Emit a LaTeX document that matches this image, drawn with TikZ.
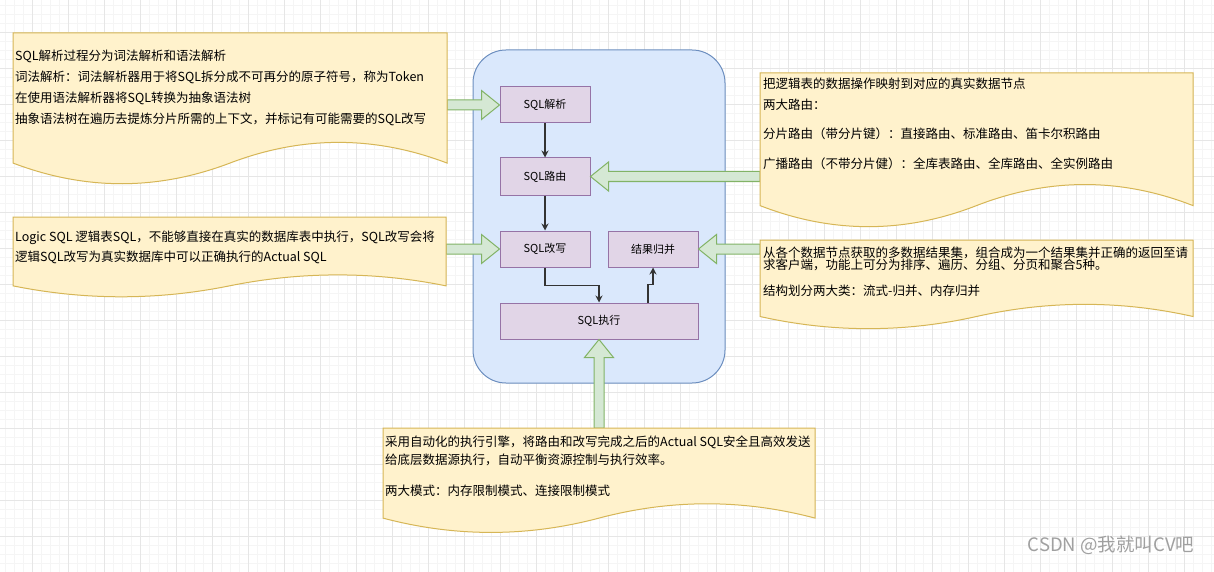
\documentclass[tikz,border=0pt]{standalone}
\usepackage{fontspec}
\setmainfont{Noto Sans CJK SC}
\usetikzlibrary{calc,arrows.meta}
\definecolor{docfill}{HTML}{FFF2CC}
\definecolor{docline}{HTML}{D6B656}
\definecolor{boxfill}{HTML}{E1D5E7}
\definecolor{boxline}{HTML}{9673A6}
\definecolor{sysfill}{HTML}{DAE8FC}
\definecolor{sysline}{HTML}{6C8EBF}
\definecolor{arrfill}{HTML}{D5E8D4}
\definecolor{arrline}{HTML}{82B366}
\definecolor{edgec}{HTML}{333333}
\definecolor{gridminor}{HTML}{F5F5F5}
\definecolor{gridmajor}{HTML}{E6E6E6}
\definecolor{wmark}{HTML}{A0A0A0}
\newcommand\docpath[4]{%
  \pgfmathsetmacro\dX{#1}\pgfmathsetmacro\dY{#2}\pgfmathsetmacro\dW{#3}\pgfmathsetmacro\dH{#4}%
  \pgfmathsetmacro\dD{0.3*\dH}%
  \draw[docstyle] (\dX,\dY) -- (\dX+\dW,\dY) -- (\dX+\dW,\dY+\dH-0.5*\dD)
    .. controls (\dX+5*\dW/6,\dY+\dH-1.1*\dD) and (\dX+2*\dW/3,\dY+\dH-1.1*\dD) .. (\dX+0.5*\dW,\dY+\dH-0.5*\dD)
    .. controls (\dX+\dW/3,\dY+\dH+0.1*\dD) and (\dX+\dW/6,\dY+\dH+0.1*\dD) .. (\dX,\dY+\dH-0.5*\dD) -- cycle;}
\begin{document}
\begin{tikzpicture}[x=1pt,y=-1pt,
  docstyle/.style={fill=docfill,draw=docline,line width=1pt},
  txt/.style={anchor=base west,inner sep=0pt,font=\fontsize{12.5}{15}\selectfont,text=black},
  stagebox/.style={draw=boxline,fill=boxfill,line width=1pt,inner sep=0pt,font=\fontsize{11}{13}\selectfont},
  flex/.style={fill=arrfill,draw=arrline,line width=1pt,line join=miter},
  edge/.style={draw=edgec,line width=1.2pt,-{Stealth[length=7pt,width=7pt]}}]
\useasboundingbox (0,0) rectangle (1214,572);
\fill[white] (0,0) rectangle (1214,572);
% grid
\foreach \g in {5,14,...,1214} \draw[gridminor,line width=0.6pt] (\g,0) -- (\g,572);
\foreach \g in {5,14,...,572} \draw[gridminor,line width=0.6pt] (0,\g) -- (1214,\g);
\foreach \g in {32,68,...,1214} \draw[gridmajor,line width=0.7pt] (\g,0) -- (\g,572);
\foreach \g in {32,68,...,572} \draw[gridmajor,line width=0.7pt] (0,\g) -- (1214,\g);
% container
\node[draw=sysline,fill=sysfill,line width=1pt,rounded corners=33pt,minimum width=252pt,minimum height=333pt,inner sep=0pt] (sys) at (599,216.5) {};
% stage boxes
\node[stagebox,minimum width=90pt,minimum height=36pt] (p1) at (545,105) {SQL解析};
\node[stagebox,minimum width=90pt,minimum height=37pt] (p2) at (545,176.5) {SQL路由};
\node[stagebox,minimum width=90pt,minimum height=36pt] (p3) at (545,249) {SQL改写};
\node[stagebox,minimum width=90pt,minimum height=36pt] (p4) at (653,249) {结果归并};
\node[stagebox,minimum width=198pt,minimum height=36pt] (p5) at (599,321) {SQL执行};
% edges
\draw[edge] (p1.south) -- (p2.north);
\draw[edge] (p2.south) -- (p3.north);
\draw[edge] (p3.south) -- ++(0,18) -| (p5.north);
\draw[edge] ([xshift=49pt]p5.north) -- ++(0,-18) -| (p4.south);
% anchor points on documents
\coordinate (d1r) at (447,105);
\coordinate (d2r) at (446,249);
\coordinate (d3l) at (760,176.5);
\coordinate (d4l) at (760,249);
\coordinate (d5t) at (599,428);
% flex arrows
\draw[flex] let \p1=(d1r), \p2=(p1.west) in
  (\x1,\y1+5pt) -- (\x2-18pt,\y1+5pt) -- (\x2-18pt,\y1+14.5pt) -- (\x2,\y2) -- (\x2-18pt,\y1-14.5pt) -- (\x2-18pt,\y1-5pt) -- (\x1,\y1-5pt) -- cycle;
\draw[flex] let \p1=(d2r), \p2=(p3.west) in
  (\x1,\y1+5pt) -- (\x2-18pt,\y1+5pt) -- (\x2-18pt,\y1+14.5pt) -- (\x2,\y2) -- (\x2-18pt,\y1-14.5pt) -- (\x2-18pt,\y1-5pt) -- (\x1,\y1-5pt) -- cycle;
\draw[flex] let \p1=(d3l), \p2=(p2.east) in
  (\x1,\y1+5pt) -- (\x2+18pt,\y1+5pt) -- (\x2+18pt,\y1+14.5pt) -- (\x2,\y2) -- (\x2+18pt,\y1-14.5pt) -- (\x2+18pt,\y1-5pt) -- (\x1,\y1-5pt) -- cycle;
\draw[flex] let \p1=(d4l), \p2=(p4.east) in
  (\x1,\y1+5pt) -- (\x2+18pt,\y1+5pt) -- (\x2+18pt,\y1+14.5pt) -- (\x2,\y2) -- (\x2+18pt,\y1-14.5pt) -- (\x2+18pt,\y1-5pt) -- (\x1,\y1-5pt) -- cycle;
\draw[flex] let \p1=(d5t), \p2=(p5.south) in
  (\x1-5pt,\y1) -- (\x1-5pt,\y2-18pt) -- (\x1-14.5pt,\y2-18pt) -- (\x2,\y2) -- (\x1+14.5pt,\y2-18pt) -- (\x1+5pt,\y2-18pt) -- (\x1+5pt,\y1) -- cycle;
% documents
\docpath{13}{33}{434}{153}
\docpath{13}{217}{433}{81}
\docpath{760}{73}{433}{156}
\docpath{760}{240}{433}{90}
\docpath{383}{428}{432}{106}
% texts
\node[txt] (t1a) at (15,61) {SQL解析过程分为词法解析和语法解析};
\node[txt] (t1b) at (15,82) {词法解析：词法解析器用于将SQL拆分成不可再分的原子符号，称为Token};
\node[txt] (t1c) at (15,103) {在使用语法解析器将SQL转换为抽象语法树};
\node[txt] (t1d) at (15,124) {抽象语法树在遍历去提炼分片所需的上下文，并标记有可能需要的SQL改写};
\node[txt] (t2a) at (15,241.5) {Logic SQL 逻辑表SQL，不能够直接在真实的数据库表中执行，SQL改写会将};
\node[txt] (t2b) at (15,261.5) {逻辑SQL改写为真实数据库中可以正确执行的Actual SQL};
\node[txt] (t3a) at (763,88.7) {把逻辑表的数据操作映射到对应的真实数据节点};
\node[txt] (t3b) at (763,109.7) {两大路由：};
\node[txt] (t3c) at (763,138.7) {分片路由（带分片键）：直接路由、标准路由、笛卡尔积路由};
\node[txt] (t3d) at (763,168) {广播路由（不带分片健）：全库表路由、全库路由、全实例路由};
\node[txt] (t4a) at (763,257.5) {从各个数据节点获取的多数据结果集，组合成为一个结果集并正确的返回至请};
\node[txt] (t4b) at (763,269.8) {求客户端，功能上可分为排序、遍历、分组、分页和聚合5种。};
\node[txt] (t4c) at (763,295.8) {结构划分两大类：流式-归并、内存归并};
\node[txt] (t5a) at (385,446.5) {采用自动化的执行引擎，将路由和改写完成之后的Actual SQL安全且高效发送};
\node[txt] (t5b) at (385,464.8) {给底层数据源执行，自动平衡资源控制与执行效率。};
\node[txt] (t5c) at (385,495.8) {两大模式：内存限制模式、连接限制模式};
% watermark
\node[inner sep=0pt,text=wmark,font=\fontsize{18.5}{20}\selectfont] (wm) at (1111,545) {CSDN @我就叫CV吧};
\end{tikzpicture}
\end{document}
